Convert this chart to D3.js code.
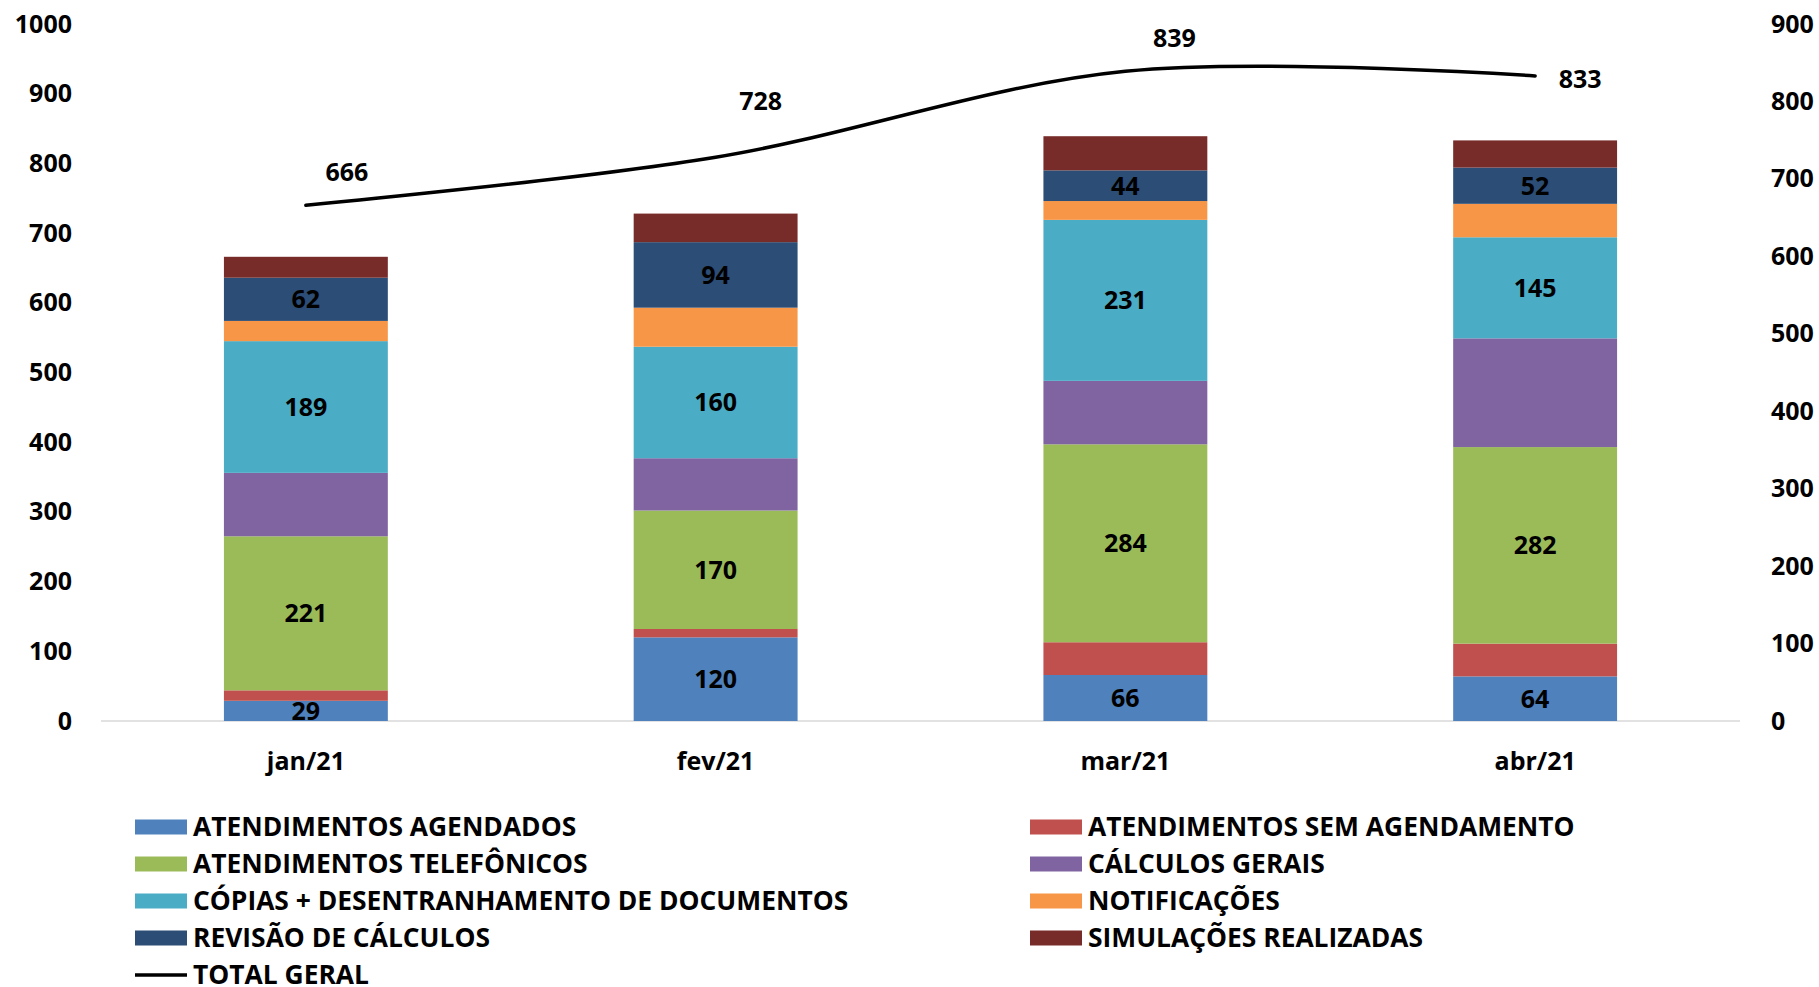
<!DOCTYPE html>
<html>
<head>
<meta charset="utf-8">
<script src="https://cdn.jsdelivr.net/npm/d3@7"></script>
<style>
  body { margin: 0; background: #fff; }
  text { font-family: "Open Sans", "Noto Sans", sans-serif; font-weight: 700; fill: #000; }
</style>
</head>
<body>
<div id="chart"></div>
<script>
// chart data
const months = ["jan/21", "fev/21", "mar/21", "abr/21"];
const seriesNames = [
    "ATENDIMENTOS AGENDADOS",
    "ATENDIMENTOS SEM AGENDAMENTO",
    "ATENDIMENTOS TELEFÔNICOS",
    "CÁLCULOS GERAIS",
    "CÓPIAS + DESENTRANHAMENTO DE DOCUMENTOS",
    "NOTIFICAÇÕES",
    "REVISÃO DE CÁLCULOS",
    "SIMULAÇÕES REALIZADAS"
];
const agendados     = [29, 120, 66, 64];
const semAgendam    = [15, 12, 47, 47];
const telefonicos   = [221, 170, 284, 282];
const calculosGerais = [91, 75, 91, 156];
const copias        = [189, 160, 231, 145];
const notificacoes  = [29, 56, 27, 48];
const revisao       = [62, 94, 44, 52];
const simulacoes    = [30, 41, 49, 39];
const totalGeral    = [666, 728, 839, 833];
const leftTicks  = [0, 100, 200, 300, 400, 500, 600, 700, 800, 900, 1000];
const rightTicks = [0, 100, 200, 300, 400, 500, 600, 700, 800, 900];

const seriesValues = [agendados, semAgendam, telefonicos, calculosGerais, copias, notificacoes, revisao, simulacoes];
const colors = ["#4F81BD", "#C0504D", "#9BBB59", "#8064A2", "#4BACC6", "#F79646", "#2C4D75", "#772C2A"];
const showLabel = [true, false, true, false, true, false, true, false];
// where the total labels sit relative to their point
const totalLabelOffset = [[41, -33], [45, -56], [49, -33], [45, 3]];

const width = 1819, height = 987;
const fontSize = 25;

const svg = d3.select("#chart").append("svg")
    .attr("width", width)
    .attr("height", height);

// scales
const x = d3.scaleBand().domain(months).range([101, 1740]);
const y = d3.scaleLinear().domain([0, 1000]).range([721, 24]);
const yRight = d3.scaleLinear().domain([0, 900]).range([721, 24]);
const barWidth = x.bandwidth() * 0.4;

// stack table
const table = months.map((m, i) => {
    const row = { month: m };
    seriesNames.forEach((s, j) => row[s] = seriesValues[j][i]);
    return row;
});
const stacked = d3.stack().keys(seriesNames)(table);

// baseline
svg.append("line")
    .attr("x1", x.range()[0]).attr("x2", x.range()[1])
    .attr("y1", y(0)).attr("y2", y(0))
    .attr("stroke", "#D9D9D9")
    .attr("stroke-width", 1.5);

// bars
const layers = svg.append("g").selectAll("g")
    .data(stacked)
    .join("g")
    .attr("fill", (d, i) => colors[i]);

layers.selectAll("rect")
    .data(d => d)
    .join("rect")
    .attr("x", d => x(d.data.month) + (x.bandwidth() - barWidth) / 2)
    .attr("y", d => y(d[1]))
    .attr("width", barWidth)
    .attr("height", d => y(d[0]) - y(d[1]));

// bar labels
layers.filter((d, i) => showLabel[i])
    .selectAll("text")
    .data(d => d)
    .join("text")
    .attr("x", d => x(d.data.month) + x.bandwidth() / 2)
    .attr("y", d => (y(d[0]) + y(d[1])) / 2)
    .attr("dy", "0.36em")
    .attr("text-anchor", "middle")
    .style("font-size", fontSize + "px")
    .text(d => d[1] - d[0]);

// axes
const fmt = d3.format("d");
const leftAxis = svg.append("g")
    .attr("transform", "translate(72,0)")
    .call(d3.axisLeft(y).tickValues(leftTicks).tickFormat(fmt).tickSize(0).tickPadding(0));
const rightAxis = svg.append("g")
    .attr("transform", "translate(1771,0)")
    .call(d3.axisRight(yRight).tickValues(rightTicks).tickFormat(fmt).tickSize(0).tickPadding(0));
const bottomAxis = svg.append("g")
    .attr("transform", `translate(0,${y(0)})`)
    .call(d3.axisBottom(x).tickSize(0).tickPadding(31));

[leftAxis, rightAxis, bottomAxis].forEach(g => {
    g.select(".domain").remove();
    g.selectAll("text")
        .style("font-size", fontSize + "px")
        .attr("fill", "#000");
    g.attr("font-family", null).attr("font-size", null);
});

// total line
const line = d3.line()
    .x((d, i) => x(months[i]) + x.bandwidth() / 2)
    .y(d => yRight(d))
    .curve(d3.curveCardinal.tension(0));

svg.append("path")
    .datum(totalGeral)
    .attr("d", line)
    .attr("fill", "none")
    .attr("stroke", "#000")
    .attr("stroke-width", 3.5)
    .attr("stroke-linecap", "round");

svg.append("g").selectAll("text")
    .data(totalGeral)
    .join("text")
    .attr("x", (d, i) => x(months[i]) + x.bandwidth() / 2 + totalLabelOffset[i][0])
    .attr("y", (d, i) => yRight(d) + totalLabelOffset[i][1])
    .attr("dy", "0.36em")
    .attr("text-anchor", "middle")
    .style("font-size", fontSize + "px")
    .text(d => d);

// legend, two columns, row by row
const legendItems = seriesNames.map((s, i) => ({ name: s, color: colors[i], type: "rect" }))
    .concat([{ name: "TOTAL GERAL", color: "#000", type: "line" }]);
const colX = [135, 1030];
const rowY = 827, rowStep = 37;

const legend = svg.append("g").selectAll("g")
    .data(legendItems)
    .join("g")
    .attr("transform", (d, i) => `translate(${colX[i % 2]},${rowY + Math.floor(i / 2) * rowStep})`);

legend.filter(d => d.type === "rect").append("rect")
    .attr("x", 0).attr("y", -7.5)
    .attr("width", 52).attr("height", 15)
    .attr("fill", d => d.color);

legend.filter(d => d.type === "line").append("line")
    .attr("x1", 0).attr("x2", 52)
    .attr("y1", 0).attr("y2", 0)
    .attr("stroke", "#000")
    .attr("stroke-width", 3.5);

legend.append("text")
    .attr("x", 58)
    .attr("dy", "0.35em")
    .style("font-size", "26.4px")
    .text(d => d.name);
</script>
</body>
</html>
